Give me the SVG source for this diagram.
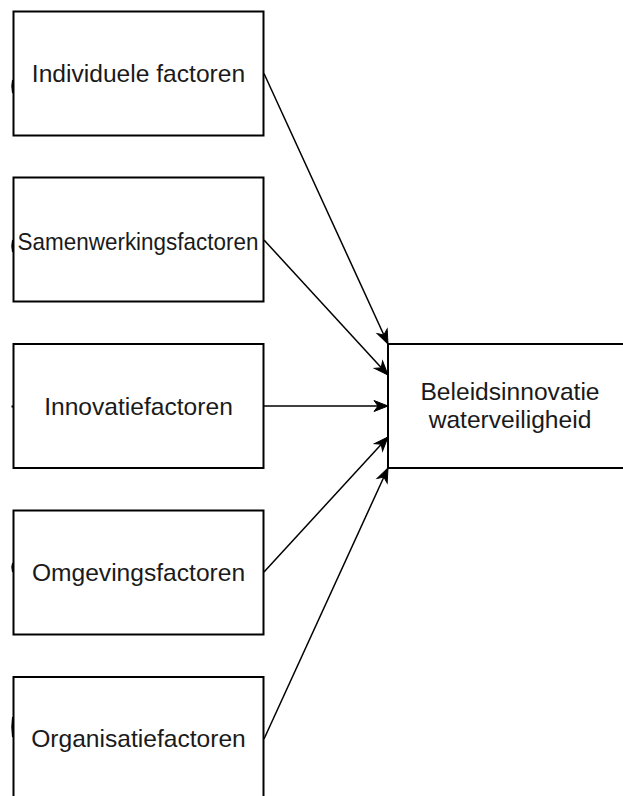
<svg xmlns="http://www.w3.org/2000/svg" width="623" height="796" viewBox="0 0 623 796">
<style>
.box{fill:#fff;stroke:#000;stroke-width:2}
.lbl{font-family:"Liberation Sans",Arial,sans-serif;font-size:24.6px;fill:#1a1a1a;text-anchor:middle}
.edge{fill:none;stroke:#000;stroke-width:1.5}
.stub{fill:none;stroke:#000;stroke-width:2}
</style>
<defs>
<marker id="arr" markerUnits="userSpaceOnUse" markerWidth="16" markerHeight="12" refX="14" refY="6" orient="auto" overflow="visible">
<path d="M0,0.5 L14,6 L0,11.5 L4,6 Z" fill="#000" stroke="#000" stroke-width="1"/>
</marker>
</defs>
<rect width="623" height="796" fill="#fff"/>
<g id="connectors">
<line class="edge" x1="264" y1="73.5" x2="388" y2="344" marker-end="url(#arr)"/>
<line class="edge" x1="264" y1="240" x2="388" y2="375" marker-end="url(#arr)"/>
<line class="edge" x1="264" y1="406" x2="388" y2="406" marker-end="url(#arr)"/>
<line class="edge" x1="264" y1="572" x2="388" y2="437" marker-end="url(#arr)"/>
<line class="edge" x1="264" y1="739" x2="388" y2="468" marker-end="url(#arr)"/>
</g>
<g id="individuele">
<rect class="box" x="13.5" y="11.5" width="250" height="124"/>
<path class="stub" d="M13,80 Q11.5,86 13,93"/>
<text class="lbl" x="138.5" y="82">Individuele factoren</text>
</g>
<g id="samenwerking">
<rect class="box" x="13.5" y="177.5" width="250" height="124"/>
<path class="stub" d="M13,240 Q11.5,246 13,252"/>
<text class="lbl" x="138" y="250" textLength="241" lengthAdjust="spacingAndGlyphs">Samenwerkingsfactoren</text>
</g>
<g id="innovatie">
<rect class="box" x="13.5" y="344" width="250" height="124"/>
<path class="stub" d="M11.5,406.5 L13,406.5"/>
<text class="lbl" x="138.5" y="415">Innovatiefactoren</text>
</g>
<g id="omgeving">
<rect class="box" x="13.5" y="510.5" width="250" height="124"/>
<path class="stub" d="M13,563 Q11.5,567 13,572"/>
<text class="lbl" x="138.5" y="581">Omgevingsfactoren</text>
</g>
<g id="organisatie">
<rect class="box" x="13.5" y="677" width="250" height="124"/>
<path class="stub" d="M13,717 Q11.5,727 13,737"/>
<text class="lbl" x="138.5" y="747">Organisatiefactoren</text>
</g>
<g id="beleidsinnovatie">
<rect class="box" x="388" y="344" width="245" height="124"/>
<text class="lbl" x="510" y="400">Beleidsinnovatie</text>
<text class="lbl" x="510" y="428">waterveiligheid</text>
</g>
</svg>
